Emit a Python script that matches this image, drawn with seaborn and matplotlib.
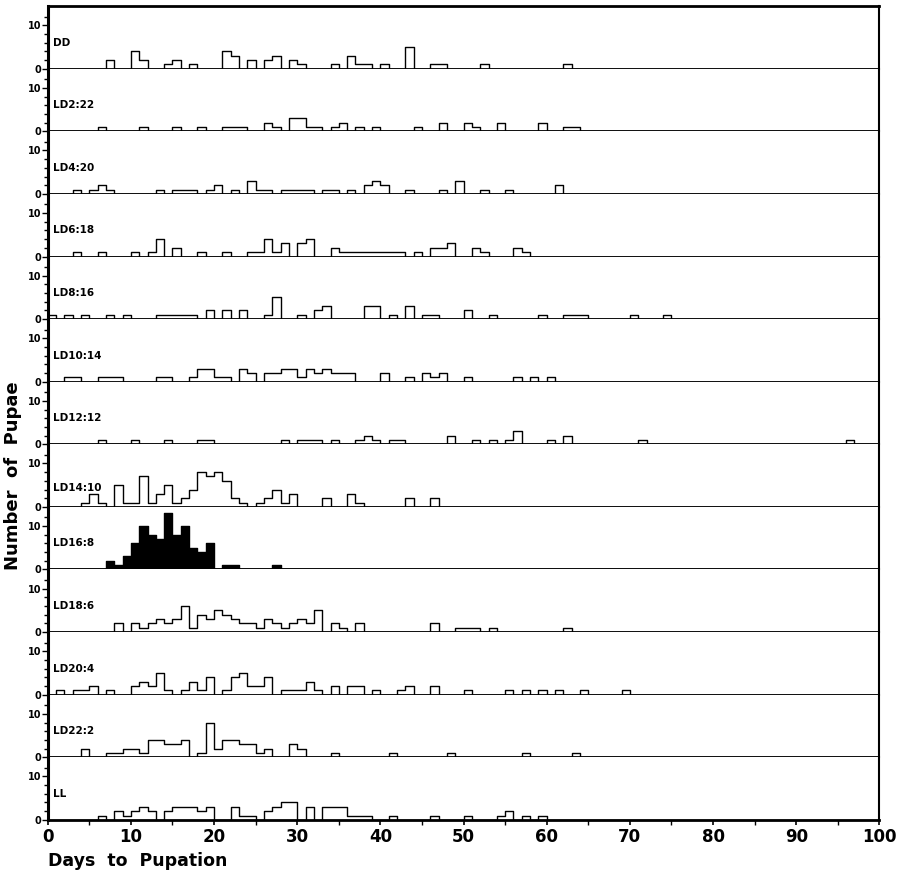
import matplotlib
matplotlib.use("Agg")
import matplotlib.pyplot as plt
import seaborn as sns
import numpy as np
import pandas as pd

# daily pupation counts per photoperiod (day, number of pupae)
dd_days = [7, 10, 11, 14, 15, 17, 21, 22, 24, 26, 27, 29, 30, 34, 36, 37, 38, 40, 43, 46, 47, 52, 62]
dd_counts = [2, 4, 2, 1, 2, 1, 4, 3, 2, 2, 3, 2, 1, 1, 3, 1, 1, 1, 5, 1, 1, 1, 1]

ld2_days = [6, 11, 15, 18, 21, 22, 23, 26, 27, 29, 30, 31, 32, 34, 35, 37, 39, 44, 47, 50, 51, 54, 59, 62, 63]
ld2_counts = [1, 1, 1, 1, 1, 1, 1, 2, 1, 3, 3, 1, 1, 1, 2, 1, 1, 1, 2, 2, 1, 2, 2, 1, 1]

ld4_days = [3, 5, 6, 7, 13, 15, 16, 17, 19, 20, 22, 24, 25, 26, 28, 29, 30, 31, 33, 34, 36, 38, 39, 40,
            43, 47, 49, 52, 55, 61]
ld4_counts = [1, 1, 2, 1, 1, 1, 1, 1, 1, 2, 1, 3, 1, 1, 1, 1, 1, 1, 1, 1, 1, 2, 3, 2,
              1, 1, 3, 1, 1, 2]

ld6_days = [3, 6, 10, 12, 13, 15, 18, 21, 24, 25, 26, 27, 28, 30, 31, 34, 35, 36, 37, 38, 39, 40, 41, 42,
            44, 46, 47, 48, 51, 52, 56, 57]
ld6_counts = [1, 1, 1, 1, 4, 2, 1, 1, 1, 1, 4, 1, 3, 3, 4, 2, 1, 1, 1, 1, 1, 1, 1, 1,
              1, 2, 2, 3, 2, 1, 2, 1]

ld8_days = [0, 2, 4, 7, 9, 13, 14, 15, 16, 17, 19, 21, 23, 26, 27, 30, 32, 33, 38, 39, 41, 43, 45, 46,
            50, 53, 59, 62, 63, 64, 70, 74]
ld8_counts = [1, 1, 1, 1, 1, 1, 1, 1, 1, 1, 2, 2, 2, 1, 5, 1, 2, 3, 3, 3, 1, 3, 1, 1,
              2, 1, 1, 1, 1, 1, 1, 1]

ld10_days = [2, 3, 6, 7, 8, 13, 14, 17, 18, 19, 20, 21, 23, 24, 26, 27, 28, 29, 30, 31, 32, 33, 34, 35, 36,
             40, 43, 45, 46, 47, 50, 56, 58, 60]
ld10_counts = [1, 1, 1, 1, 1, 1, 1, 1, 3, 3, 1, 1, 3, 2, 2, 2, 3, 3, 1, 3, 2, 3, 2, 2, 2,
               2, 1, 2, 1, 2, 1, 1, 1, 1]

ld12_days = [6, 10, 14, 18, 19, 28, 30, 31, 32, 34, 37, 38, 39, 41, 42, 48, 51, 53, 55, 56, 60, 62, 71, 96]
ld12_counts = [1, 1, 1, 1, 1, 1, 1, 1, 1, 1, 1, 2, 1, 1, 1, 2, 1, 1, 1, 3, 1, 2, 1, 1]

ld14_days = [4, 5, 6, 8, 9, 10, 11, 12, 13, 14, 15, 16, 17, 18, 19, 20, 21, 22, 23, 25, 26, 27, 28, 29,
             33, 36, 37, 43, 46]
ld14_counts = [1, 3, 1, 5, 1, 1, 7, 1, 3, 5, 1, 2, 4, 8, 7, 8, 6, 2, 1, 1, 2, 4, 1, 3,
               2, 3, 1, 2, 2]

ld16_days = [7, 8, 9, 10, 11, 12, 13, 14, 15, 16, 17, 18, 19, 21, 22, 27]
ld16_counts = [2, 1, 3, 6, 10, 8, 7, 13, 8, 10, 5, 4, 6, 1, 1, 1]

ld18_days = [8, 10, 11, 12, 13, 14, 15, 16, 17, 18, 19, 20, 21, 22, 23, 24, 25, 26, 27, 28, 29, 30, 31, 32,
             34, 35, 37, 46, 49, 50, 51, 53, 62]
ld18_counts = [2, 2, 1, 2, 3, 2, 3, 6, 1, 4, 3, 5, 4, 3, 2, 2, 1, 3, 2, 1, 2, 3, 2, 5,
               2, 1, 2, 2, 1, 1, 1, 1, 1]

ld20_days = [1, 3, 4, 5, 7, 10, 11, 12, 13, 14, 16, 17, 18, 19, 21, 22, 23, 24, 25, 26, 28, 29, 30, 31, 32,
             34, 36, 37, 39, 42, 43, 46, 50, 55, 57, 59, 61, 64, 69]
ld20_counts = [1, 1, 1, 2, 1, 2, 3, 2, 5, 1, 1, 3, 1, 4, 1, 4, 5, 2, 2, 4, 1, 1, 1, 3, 1,
               2, 2, 2, 1, 1, 2, 2, 1, 1, 1, 1, 1, 1, 1]

ld22_days = [4, 7, 8, 9, 10, 11, 12, 13, 14, 15, 16, 18, 19, 20, 21, 22, 23, 24, 25, 26, 29, 30,
             34, 41, 48, 57, 63]
ld22_counts = [2, 1, 1, 2, 2, 1, 4, 4, 3, 3, 4, 1, 8, 2, 4, 4, 3, 3, 1, 2, 3, 2,
               1, 1, 1, 1, 1]

ll_days = [6, 8, 9, 10, 11, 12, 14, 15, 16, 17, 18, 19, 22, 23, 24, 26, 27, 28, 29, 31, 33, 34, 35,
           36, 37, 38, 41, 46, 50, 54, 55, 57, 59]
ll_counts = [1, 2, 1, 2, 3, 2, 2, 3, 3, 3, 2, 3, 3, 1, 1, 2, 3, 4, 4, 3, 3, 3, 3,
             1, 1, 1, 1, 1, 1, 1, 2, 1, 1]

panel_labels = ["DD", "LD2:22", "LD4:20", "LD6:18", "LD8:16", "LD10:14", "LD12:12",
                "LD14:10", "LD16:8", "LD18:6", "LD20:4", "LD22:2", "LL"]
panel_days = [dd_days, ld2_days, ld4_days, ld6_days, ld8_days, ld10_days, ld12_days,
              ld14_days, ld16_days, ld18_days, ld20_days, ld22_days, ll_days]
panel_counts = [dd_counts, ld2_counts, ld4_counts, ld6_counts, ld8_counts, ld10_counts, ld12_counts,
                ld14_counts, ld16_counts, ld18_counts, ld20_counts, ld22_counts, ll_counts]
filled_panel = "LD16:8"

sns.set_style("ticks")
plt.rcParams['font.family'] = ['DejaVu Sans']
# plain black ink like the printed figure
plt.rcParams.update({"text.color": "black", "axes.edgecolor": "black",
                     "xtick.color": "black", "ytick.color": "black",
                     "axes.labelcolor": "black"})

fig, axes = plt.subplots(len(panel_labels), 1, sharex=True, figsize=(9.01, 8.75), dpi=100)
fig.subplots_adjust(left=0.053, right=0.976, top=0.993, bottom=0.063, hspace=0)

n = len(axes)
for i, ax in enumerate(axes):
    label = panel_labels[i]
    filled = label == filled_panel
    df = pd.DataFrame({"day": panel_days[i], "count": panel_counts[i]})
    # one bin per day across the whole 0-100 day range
    sns.histplot(data=df, x="day", weights="count", binwidth=1, binrange=(0, 100),
                 element="step", fill=filled, color="black", alpha=1, linewidth=1.0, ax=ax)
    ax.set_xlim(0, 100)
    ax.set_ylim(0, 14.4)
    ax.set_ylabel("")
    ax.set_xlabel("")
    ax.set_yticks([0, 10])
    ax.set_yticks([2, 4, 6, 8, 12], minor=True)
    ax.set_yticklabels(["0", "10"], fontsize=7, fontweight="bold")
    ax.tick_params(axis="y", which="major", direction="out", length=4, width=1, pad=0.5)
    ax.tick_params(axis="y", which="minor", direction="out", length=3, width=1)

    label_y = 4.3 if label == "LD14:10" else 6.0
    ax.text(0.6, label_y, label, fontsize=7.5, fontweight="bold", va="center", ha="left")

    ax.spines["left"].set_linewidth(2.2)
    ax.spines["right"].set_linewidth(1.5)
    ax.spines["bottom"].set_linewidth(1.3)
    if i == 0:
        ax.spines["top"].set_linewidth(2.0)
    else:
        ax.spines["top"].set_visible(False)

    if i < n - 1:
        ax.tick_params(axis="x", which="both", bottom=False, labelbottom=False)

bottom_ax = axes[-1]
bottom_ax.spines["bottom"].set_linewidth(2.0)
bottom_ax.set_xticks(np.arange(0, 101, 10))
bottom_ax.set_xticks(np.arange(5, 100, 10), minor=True)
bottom_ax.set_xticklabels([str(v) for v in range(0, 101, 10)], fontsize=12, fontweight="bold")
bottom_ax.tick_params(axis="x", which="major", direction="out", length=3.6, width=1.2, pad=2.5)
bottom_ax.tick_params(axis="x", which="minor", direction="out", length=3.6, width=1.0)

fig.text(0.053, 0.0105, "Days  to  Pupation", fontsize=12.5, fontweight="bold",
         ha="left", va="baseline")
fig.text(0.014, 0.456, "Number  of  Pupae", fontsize=13, fontweight="bold", rotation=90,
         ha="center", va="center")

fig.savefig("out.png", dpi=100)
